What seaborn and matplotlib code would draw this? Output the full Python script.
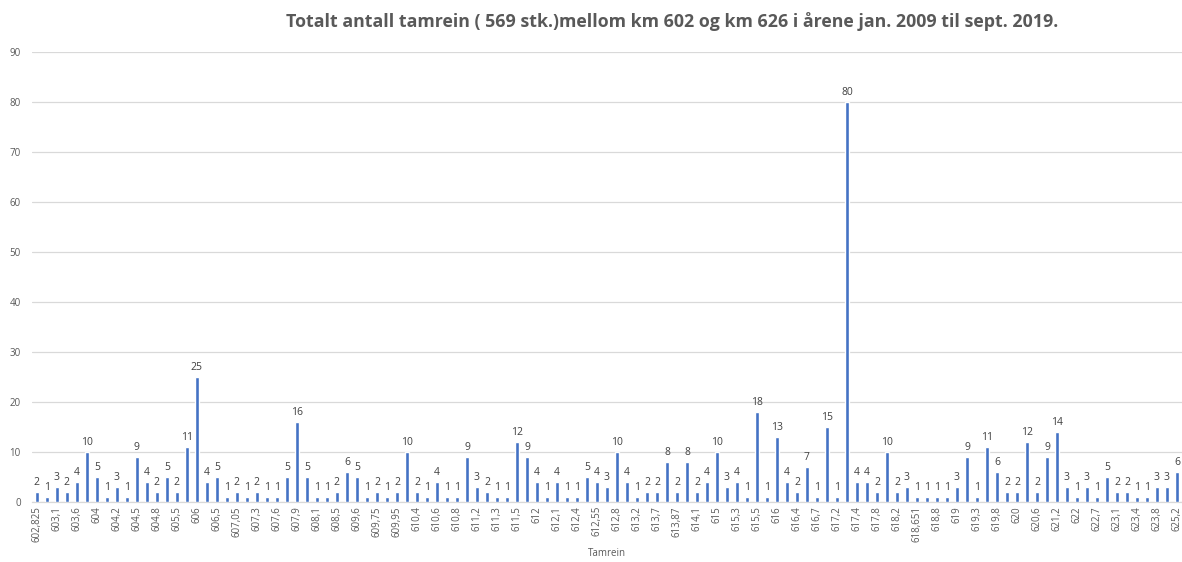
import matplotlib
matplotlib.use("Agg")
import matplotlib.pyplot as plt
import seaborn as sns
import numpy as np
import pandas as pd

values = [2, 1, 3, 2, 4, 10, 5, 1, 3, 1,
          9, 4, 2, 5, 2, 11, 25, 4, 5, 1,
          2, 1, 2, 1, 1, 5, 16, 5, 1, 1,
          2, 6, 5, 1, 2, 1, 2, 10, 2, 1,
          4, 1, 1, 9, 3, 2, 1, 1, 12, 9,
          4, 1, 4, 1, 1, 5, 4, 3, 10, 4,
          1, 2, 2, 8, 2, 8, 2, 4, 10, 3,
          4, 1, 18, 1, 13, 4, 2, 7, 1, 15,
          1, 80, 4, 4, 2, 10, 2, 3, 1, 1,
          1, 1, 3, 9, 1, 11, 6, 2, 2, 12,
          2, 9, 14, 3, 1, 3, 1, 5, 2, 2,
          1, 1, 3, 3, 6]

tick_labels = ["602,825", "603,1", "603,6", "604", "604,2", "604,5", "604,8", "605,5",
               "606", "606,5", "607,05", "607,3", "607,6", "607,9", "608,1", "608,5",
               "609,6", "609,75", "609,95", "610,4", "610,6", "610,8", "611,2", "611,3",
               "611,5", "612", "612,1", "612,4", "612,55", "612,8", "613,2", "613,7",
               "613,87", "614,1", "615", "615,3", "615,5", "616", "616,4", "616,7",
               "617,2", "617,4", "617,8", "618,2", "618,651", "618,8", "619", "619,3",
               "619,8", "620", "620,6", "621,2", "622", "622,7", "623,1", "623,4",
               "623,8", "625,2"]

title = "Totalt antall tamrein ( 569 stk.)mellom km 602 og km 626 i årene jan. 2009 til sept. 2019."
x_title = "Tamrein"

sns.set_style("white")
plt.rcParams['font.family'] = ['Open Sans', 'DejaVu Sans']

df = pd.DataFrame({"pos": np.arange(len(values)), "antall": values})

fig = plt.figure(figsize=(11.82, 5.62), dpi=100)
ax = fig.add_axes([0.027, 0.107, 0.973, 0.800])

sns.barplot(data=df, x="pos", y="antall", color="#4472C4", saturation=1,
            width=0.46, ax=ax, zorder=3)

ax.set_ylim(0, 90)
ax.set_yticks(np.arange(0, 91, 10))
ax.set_xlim(-0.5, len(values) - 0.5)
ax.set_xticks(np.arange(0, len(values), 2))
ax.set_xticklabels(tick_labels, rotation=90, fontsize=7, color="#595959")
ax.tick_params(axis="y", labelsize=7, labelcolor="#595959", length=0, pad=8)
ax.tick_params(axis="x", length=0, pad=3)
ax.yaxis.grid(True, color="#d9d9d9", linewidth=0.9, zorder=0)
ax.xaxis.grid(False)
for s in ["top", "right", "left"]:
    ax.spines[s].set_visible(False)
ax.spines["bottom"].set_color("#d9d9d9")
ax.spines["bottom"].set_linewidth(0.9)

ax.bar_label(ax.containers[0], fontsize=7.5, color="#404040", padding=3)

ax.set_ylabel("")
ax.set_xlabel(x_title, fontsize=7, color="#595959", labelpad=4)

fig.text(0.569, 0.962, title, ha="center", va="center", fontsize=12.8,
         fontweight="bold", color="#595959")

fig.savefig("out.png", dpi=100)
